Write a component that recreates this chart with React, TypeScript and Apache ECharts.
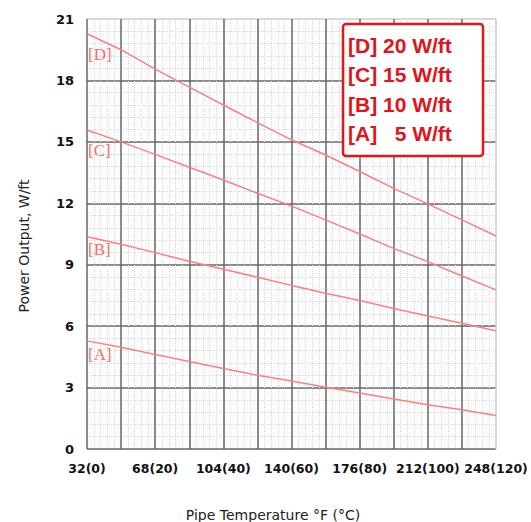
import React, { useEffect, useRef } from "react";
import * as echarts from "echarts";

const tempC = [0, 10, 20, 30, 40, 50, 60, 70, 80, 90, 100, 110, 120];
const seriesD = [20.28, 19.5, 18.55, 17.67, 16.8, 15.94, 15.1, 14.36, 13.55, 12.73, 11.97, 11.19, 10.4];
const seriesC = [15.58, 15.0, 14.39, 13.76, 13.14, 12.49, 11.86, 11.19, 10.5, 9.8, 9.15, 8.45, 7.77];
const seriesB = [10.37, 10.0, 9.59, 9.17, 8.78, 8.39, 7.99, 7.61, 7.25, 6.86, 6.5, 6.14, 5.77];
const seriesA = [5.28, 4.97, 4.62, 4.27, 3.93, 3.6, 3.32, 3.02, 2.73, 2.44, 2.16, 1.92, 1.64];
const seriesNames = ["[D]", "[C]", "[B]", "[A]"];
const legendTexts = ["[D] 20 W/ft", "[C] 15 W/ft", "[B] 10 W/ft", "[A]   5 W/ft"];
const yTicks = [0, 3, 6, 9, 12, 15, 18, 21];

export default function App() {
  const ref = useRef<HTMLDivElement>(null);
  useEffect(() => {
    const chart = echarts.init(ref.current!, null, { renderer: "svg" });
    const all = [seriesD, seriesC, seriesB, seriesA];
    const lineColor = "#ff7f7f";
    const major = "#666666";
    const yColors = yTicks.map((_, i) => (i === yTicks.length - 1 ? "#cccccc" : major));
    const xColors = tempC.map((_, i) => (i === tempC.length - 1 ? "#cccccc" : major));
    const labelY = [55, 151, 250, 355];
    chart.setOption({
      animation: false,
      grid: { left: 87, right: 35, top: 19, bottom: 73 },
      xAxis: {
        type: "value",
        min: 0,
        max: 120,
        interval: 10,
        axisLine: { show: false },
        axisTick: { show: false },
        axisLabel: {
          margin: 13,
          color: "#111",
          fontFamily: "DejaVu Sans",
          fontWeight: "bold",
          fontSize: 12.5,
          formatter: (v: number) => (v % 20 === 0 ? `${Math.round(v * 9 / 5 + 32)}(${v})` : ""),
        },
        splitLine: { show: true, lineStyle: { color: xColors, width: 1.5 } },
        minorTick: { show: false, splitNumber: 5 },
        minorSplitLine: { show: true, lineStyle: { color: "#d8d8d8", type: "dotted", width: 1 } },
      },
      yAxis: {
        type: "value",
        min: 0,
        max: 21,
        interval: 3,
        axisLine: { show: false },
        axisTick: { show: false },
        axisLabel: {
          margin: 13,
          color: "#111",
          fontFamily: "DejaVu Sans",
          fontWeight: "bold",
          fontSize: 13,
        },
        splitLine: { show: true, lineStyle: { color: yColors, width: 1.5 } },
        minorTick: { show: false, splitNumber: 5 },
        minorSplitLine: { show: true, lineStyle: { color: "#d8d8d8", type: "dotted", width: 1 } },
      },
      series: all.map((vals, k) => ({
        name: seriesNames[k],
        type: "line",
        showSymbol: false,
        symbol: "none",
        data: tempC.map((c, i) => [c, vals[i]]),
        lineStyle: { color: lineColor, width: 1.5 },
        z: 5,
      })),
      graphic: [
        ...seriesNames.map((n, k) => ({
          type: "text",
          left: 88,
          top: labelY[k] - 9,
          z: 10,
          style: {
            text: n,
            fill: "#ff6a6a",
            fontFamily: "Liberation Serif",
            fontSize: 17,
          },
        })),
        {
          type: "rect",
          shape: { x: 343, y: 24, width: 140, height: 132, r: 3 },
          style: { fill: "#fff", stroke: "#e8141c", lineWidth: 2.5 },
          z: 20,
        },
        ...legendTexts.map((t, k) => ({
          type: "text",
          x: 348,
          y: 45 + k * 29.5,
          z: 21,
          style: {
            text: t,
            fill: "#e0141c",
            fontFamily: "Liberation Sans",
            fontWeight: "bold",
            fontSize: 21,
            align: "left",
            verticalAlign: "middle",
          },
        })),
        {
          type: "text",
          x: 24,
          y: 246,
          rotation: Math.PI / 2,
          style: {
            text: "Power Output, W/ft",
            fill: "#222",
            fontFamily: "DejaVu Sans",
            fontSize: 14,
            align: "center",
            verticalAlign: "middle",
          },
        },
        {
          type: "text",
          x: 273,
          y: 515,
          style: {
            text: "Pipe Temperature °F (°C)",
            fill: "#222",
            fontFamily: "DejaVu Sans",
            fontSize: 14,
            align: "center",
            verticalAlign: "middle",
          },
        },
      ],
    });
    return () => chart.dispose();
  }, []);
  return (
    <div
      ref={ref}
      style={{ position: "fixed", left: 0, top: 0, width: 531, height: 522, background: "#fff" }}
    />
  );
}
